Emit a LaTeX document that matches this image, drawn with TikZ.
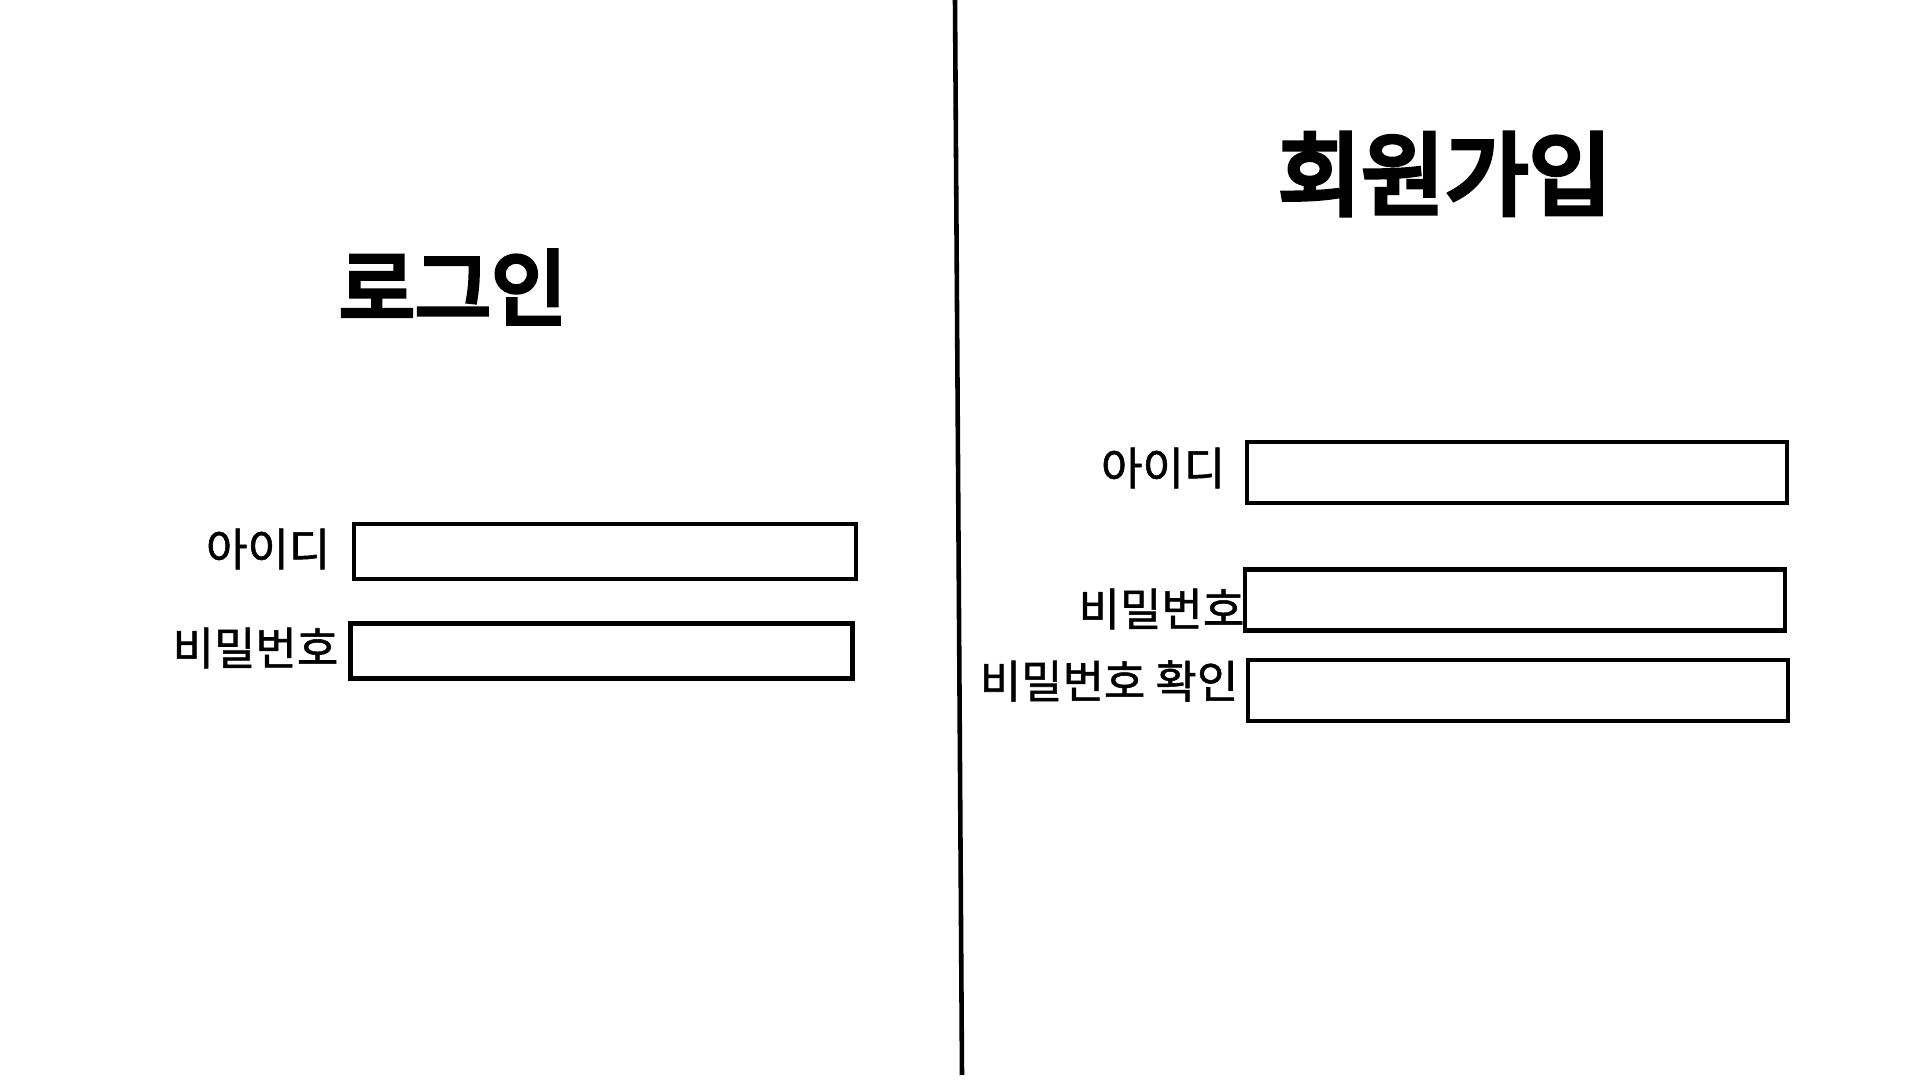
\documentclass[tikz,border=0pt]{standalone}
\usepackage{fontspec}
\newfontfamily\krfont{Noto Sans CJK KR}[FakeBold=1.2]
\newfontfamily\krheavy{Noto Sans CJK KR}[FakeBold=5.5]
\tikzset{
	divider/.style={line width=1.3pt},
	field/.style={draw, line width=1.3pt, inner sep=0pt},
	loginbox/.style={field, minimum width=5.02cm, minimum height=0.55cm},
	joinbox/.style={field, minimum width=5.4cm, minimum height=0.61cm},
	fieldlabel/.style={anchor=east, inner sep=0pt}
}
\begin{document}
\begin{tikzpicture}[x=0.01cm,y=-0.01cm]
					\newcommand{\mytitlefont}[2]{
						\fontsize{#1}{30}\selectfont\krheavy{#2}
					}\newcommand{\mylabelfont}[1]{
						\fontsize{12.8}{15}\selectfont\krfont{#1}
					}%Page frame
					\useasboundingbox (0,0) rectangle (1920,1080);
					%Divider between the two forms
					\coordinate (linetop) at (955,0);
					\coordinate (linebottom) at (962,1075);
					\draw [divider] (linetop) -- (linebottom);
					%Left side: login
					\coordinate (loginTitle) at (453,287);
					\node (login) at (loginTitle) {\mytitlefont{23.5}{로그인}};
					\coordinate (loginId) at (605,551.5);
					\coordinate (loginPw) at (601.5,651);
					\node [loginbox] (loginIdBox) at (loginId) {};
					\node [loginbox] (loginPwBox) at (loginPw) {};
					\coordinate (loginIdText) at (331,549);
					\coordinate (loginPwText) at (339,648);
					\node [fieldlabel] (loginIdLabel) at (loginIdText) {\mylabelfont{아이디}};
					\node [fieldlabel] (loginPwLabel) at (loginPwText) {\mylabelfont{비밀번호}};
					%Right side: sign up
					\coordinate (joinTitle) at (1445,174);
					\node (join) at (joinTitle) {\mytitlefont{25.8}{회원가입}};
					\coordinate (joinId) at (1517,472.5);
					\coordinate (joinPw) at (1515,600);
					\coordinate (joinPwCheck) at (1518,690.5);
					\node [joinbox] (joinIdBox) at (joinId) {};
					\node [joinbox] (joinPwBox) at (joinPw) {};
					\node [joinbox] (joinPwCheckBox) at (joinPwCheck) {};
					\coordinate (joinIdText) at (1226,468);
					\coordinate (joinPwText) at (1245,609);
					\coordinate (joinPwCheckText) at (1239,681);
					\node [fieldlabel] (joinIdLabel) at (joinIdText) {\mylabelfont{아이디}};
					\node [fieldlabel] (joinPwLabel) at (joinPwText) {\mylabelfont{비밀번호}};
					\node [fieldlabel] (joinPwCheckLabel) at (joinPwCheckText) {\mylabelfont{비밀번호 확인}};
\end{tikzpicture}
\end{document}
